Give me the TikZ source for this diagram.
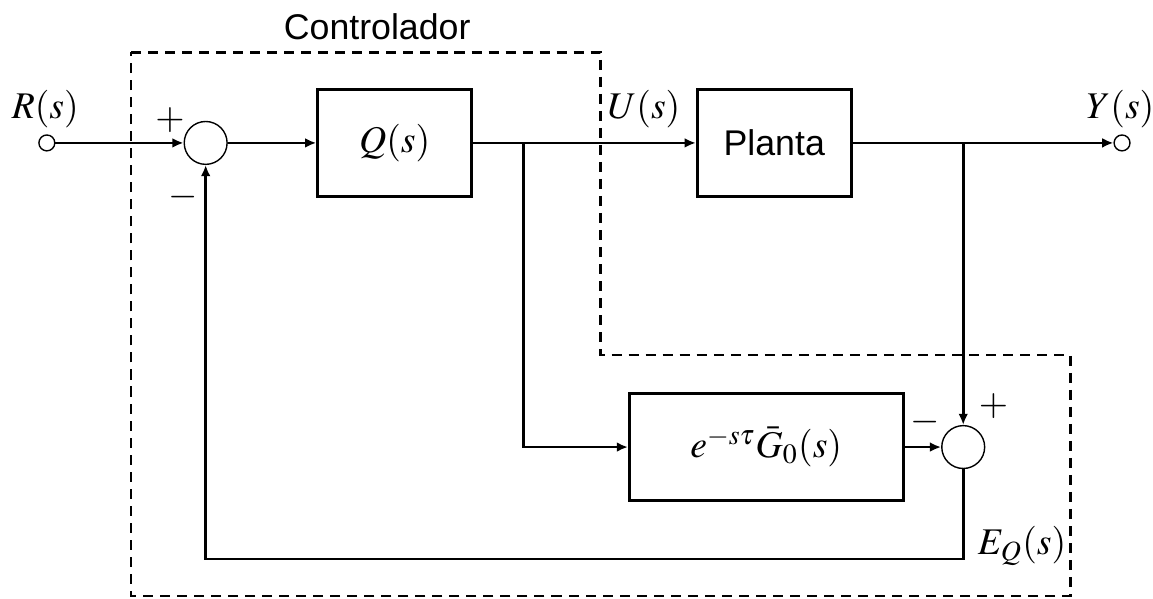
\documentclass[tikz,border=0pt]{standalone}
\usepackage{mathptmx}
\usepackage[no-math]{fontspec}
\setsansfont{Liberation Sans}
\usetikzlibrary{arrows.meta,positioning}

\begin{document}
\begin{tikzpicture}[
	blk/.style={draw,line width=1pt,minimum width=1.94cm,minimum height=1.34cm},
	sumnode/.style={draw,circle,line width=0.5pt,minimum size=0.54cm,inner sep=0pt},
	term/.style={draw,circle,line width=0.5pt,minimum size=0.2cm,inner sep=0pt},
	sig/.style={line width=1pt},
	arr/.style={sig,-{Latex[length=4pt,width=3.5pt]}},
	lbl/.style={font=\fontsize{13.5}{16}\selectfont},
	txt/.style={font=\fontsize{12.8}{15}\selectfont\sffamily},
	ctrl/.style={dashed,line width=1pt,dash pattern=on 3.6pt off 2.5pt}
	]
	\useasboundingbox (0,0) rectangle (14.52,7.54);
	\node[term] (r) at (0.59,5.74) {};
	\node[sumnode] (s1) at (2.59,5.74) {};
	\node[blk,lbl] (q) at (4.97,5.74) {$Q(s)$};
	\node[blk,txt] (p) at (9.75,5.74) {Planta};
	\node[term] (y) at (14.13,5.74) {};
	\node[blk,lbl,minimum width=3.45cm] (g) at (9.65,1.91) {$e^{-s\tau}\bar{G}_0(s)$};
	\node[sumnode] (s2) at (12.13,1.91) {};
	\coordinate (bu) at (6.59,5.74);
	\coordinate (by) at (12.13,5.74);
	\coordinate (fb) at (12.13,0.50);

	\draw[arr] (r) -- (s1);
	\draw[arr] (s1) -- (q);
	\draw[arr] (q) -- (p);
	\draw[arr] (p) -- (y);
	\draw[arr] (by) -- (s2);
	\draw[arr] (bu) |- (g);
	\draw[arr] (g) -- (s2);
	\draw[arr] (s2) -- (fb) -| (s1);

	\node[lbl] (rl) at (0.57,6.16) {$R(s)$};
	\node[lbl] (ul) at (8.11,6.16) {$U(s)$};
	\node[lbl] (yl) at (14.11,6.16) {$Y(s)$};
	\node[lbl] (eq) at (12.87,0.67) {$E_Q(s)$};
	\node[lbl] (p1) at (2.14,6.03) {$+$};
	\node[lbl] (m1) at (2.30,5.06) {$-$};
	\node[lbl] (m2) at (11.65,2.22) {$-$};
	\node[lbl] (p2) at (12.51,2.42) {$+$};

	\draw[ctrl] (1.65,6.88) -| (7.56,3.07) -| (13.48,0.035) -| cycle;
	\node[txt] (cl) at (4.75,7.20) {Controlador};
\end{tikzpicture}
\end{document}
